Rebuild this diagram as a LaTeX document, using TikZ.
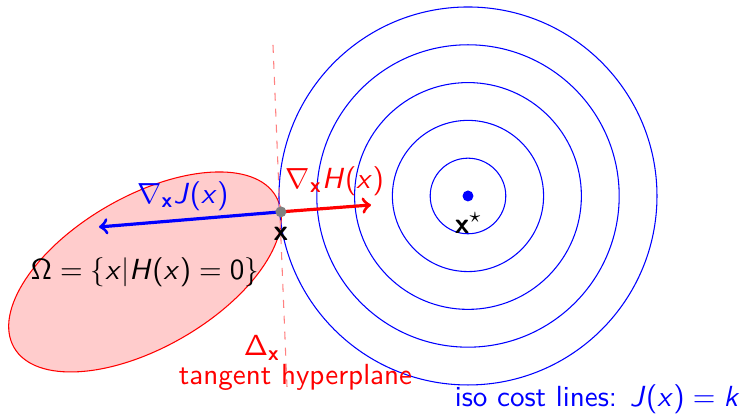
\documentclass[tikz,border=0pt,11pt]{standalone}
\SetSymbolFont{operators}{normal}{OT1}{cmss}{m}{n}
\DeclareSymbolFont{sfit}{OT1}{cmss}{m}{sl}
\DeclareMathSymbol{x}{\mathalpha}{sfit}{`x}
\DeclareMathSymbol{H}{\mathalpha}{sfit}{`H}
\DeclareMathSymbol{J}{\mathalpha}{sfit}{`J}
\DeclareMathSymbol{k}{\mathalpha}{sfit}{`k}
\DeclareMathAlphabet{\mathbf}{OT1}{cmss}{bx}{n}
\begin{document}
\begin{tikzpicture}[x=0.5cm,y=0.5cm,
  font=\sffamily,
  isoline/.style={blue, line width=0.4pt},
  lbl/.style={inner sep=0pt},
  grad/.style={very thick, ->},
  dotnode/.style={circle, inner sep=0pt, minimum size=0.145cm}]
\useasboundingbox (-12.381,-5.767) rectangle (7.249,5.185);
% constraint set
\draw[red, fill=red!20, rotate around={30:(-8.545,-2.01)}] (-8.545,-2.01) ellipse[x radius=4, y radius=2];
% iso cost lines
\foreach \r in {1,...,5} \draw[isoline] (0,0) circle[radius=\r];
% tangent hyperplane
\coordinate (t1) at (-5.159,3.995);
\coordinate (t2) at (-4.788,-5.053);
\draw[red!50, dashed] (t1) -- (t2);
% optimum
\node[dotnode, fill=blue] (opt) at (0,0) {};
\node[lbl] (optlbl) at (0.01,-0.714) {$\mathbf{x}^\star$};
% point x and gradients
\node[dotnode] (xp) at (-4.95,-0.42) {};
\coordinate (hend) at (-2.566,-0.238);
\coordinate (jend) at (-9.762,-0.820);
\draw[grad, red] (xp.center) -- (hend);
\draw[grad, blue] (xp.center) -- (jend);
\node[dotnode, fill=gray] at (xp) {};
\node[lbl] (xlbl) at (-4.947,-0.992) {$\mathbf{x}$};
\node[lbl, red] (hlbl) at (-3.52,0.397) {$\nabla_{\mathbf{x}} H(x)$};
\node[lbl, blue] (jlbl) at (-7.54,0) {$\nabla_{\mathbf{x}} J(x)$};
\node[lbl] (omega) at (-8.545,-2.01) {$\Omega = \{x | H(x) = 0\}$};
\node[lbl, red] (dlbl) at (-5.45,-4.02) {$\Delta_{\mathbf{x}}$};
\node[lbl, red] (tlbl) at (-4.563,-4.802) {tangent hyperplane};
\node[lbl, blue] (ilbl) at (3.426,-5.37) {iso cost lines: $J(x) = k$};
\end{tikzpicture}
\end{document}
